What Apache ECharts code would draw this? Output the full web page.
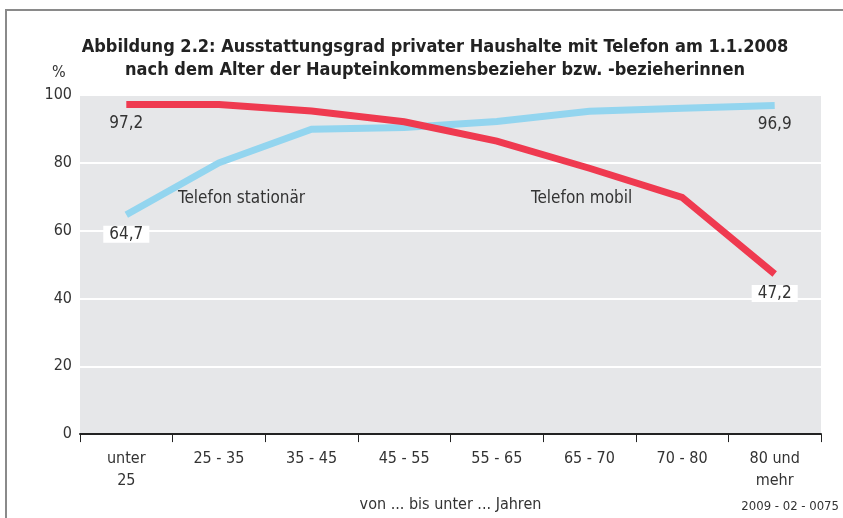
<!DOCTYPE html>
<html lang="de">
  <head>
    <meta charset="UTF-8" />
    <title>Ausstattungsgrad Telefon 2008</title>
    <script src="https://cdn.jsdelivr.net/npm/echarts@6/dist/echarts.min.js"></script>
    <style>
      html, body { margin: 0; padding: 0; background: #fff; }
      #main { width: 843px; height: 518px; }
    </style>
  </head>
  <body>
    <div id="main"></div>

    <script>
      const ageGroups = ['unter\n25', '25 - 35', '35 - 45', '45 - 55', '55 - 65', '65 - 70', '70 - 80', '80 und\nmehr'];
      const mobil = [97.2, 97.2, 95.3, 92.1, 86.4, 78.4, 69.8, 47.2];
      const stationaer = [64.7, 80.0, 89.9, 90.4, 92.2, 95.2, 96.1, 96.9];
      const yTicks = [0, 20, 40, 60, 80, 100];

      const font = '"DejaVu Sans Condensed", "DejaVu Sans", sans-serif';
      const textColor = '#333';

      // only first and last points carry a value label; whiteBox = indexes that sit on a gridline
      function withEndLabels(values, whiteBox) {
        return values.map((v, i) => {
          if (i !== 0 && i !== values.length - 1) return v;
          const label = {
            show: true,
            position: 'bottom',
            distance: 11,
            formatter: (p) => String(p.value).replace('.', ','),
            fontFamily: font,
            fontSize: 17,
            color: textColor,
          };
          if (whiteBox.includes(i)) {
            label.backgroundColor = '#fff';
            label.padding = [0, 6];
          }
          return { value: v, label };
        });
      }

      const chart = echarts.init(document.getElementById('main'));

      chart.setOption({
        animation: false,
        textStyle: { fontFamily: font },
        title: {
          text: 'Abbildung 2.2: Ausstattungsgrad privater Haushalte mit Telefon am 1.1.2008\nnach dem Alter der Haupteinkommensbezieher bzw. -bezieherinnen',
          left: 430,
          top: 31,
          textAlign: 'center',
          textStyle: { fontFamily: font, fontSize: 18, fontWeight: 'bold', color: '#222', lineHeight: 23 },
        },
        grid: {
          left: 80,
          right: 22,
          top: 95,
          bottom: 83,
          show: true,
          backgroundColor: '#e6e7e9',
          borderWidth: 0,
        },
        xAxis: {
          type: 'category',
          data: ageGroups,
          boundaryGap: true,
          name: 'von ... bis unter ... Jahren',
          nameLocation: 'middle',
          nameGap: 54,
          nameTextStyle: { fontFamily: font, fontSize: 16, color: textColor },
          axisLine: { lineStyle: { color: '#222', width: 2 } },
          axisTick: { show: true, interval: 0, length: 8, lineStyle: { color: '#222', width: 1 } },
          axisLabel: { interval: 0, margin: 14, fontFamily: font, fontSize: 16, color: textColor, lineHeight: 22 },
          splitLine: { show: false },
        },
        yAxis: {
          type: 'value',
          min: yTicks[0],
          max: yTicks[yTicks.length - 1],
          interval: 20,
          axisLine: { show: false },
          axisTick: { show: false },
          axisLabel: { margin: 8, fontFamily: font, fontSize: 16, color: textColor },
          splitLine: { show: true, lineStyle: { color: '#fff', width: 2 } },
        },
        graphic: [
          { type: 'rect', silent: true, z: -10, shape: { x: 6, y: 10, width: 900, height: 600 },
            style: { fill: 'none', stroke: '#8a8a8a', lineWidth: 2 } },
          { type: 'text', left: 52, top: 65,
            style: { text: '%', fontFamily: font, fontSize: 16, fill: textColor } },
          { type: 'text', left: 178, top: 190,
            style: { text: 'Telefon stationär', fontFamily: font, fontSize: 17, fill: textColor } },
          { type: 'text', left: 531, top: 190,
            style: { text: 'Telefon mobil', fontFamily: font, fontSize: 17, fill: textColor } },
          { type: 'text', right: 4, top: 500,
            style: { text: '2009 - 02 - 0075', fontFamily: font, fontSize: 13, fill: textColor } },
        ],
        series: [
          {
            name: 'Telefon stationär',
            type: 'line',
            data: withEndLabels(stationaer, [0]),
            symbol: 'circle',
            symbolSize: 0.1,
            showAllSymbol: true,
            lineStyle: { color: '#93d5ef', width: 7, cap: 'butt', join: 'miter' },
            itemStyle: { color: '#93d5ef' },
            z: 2,
          },
          {
            name: 'Telefon mobil',
            type: 'line',
            data: withEndLabels(mobil, [mobil.length - 1]),
            symbol: 'circle',
            symbolSize: 0.1,
            showAllSymbol: true,
            lineStyle: { color: '#ef3a50', width: 7, cap: 'butt', join: 'miter' },
            itemStyle: { color: '#ef3a50' },
            z: 3,
          },
        ],
      });
    </script>
  </body>
</html>
